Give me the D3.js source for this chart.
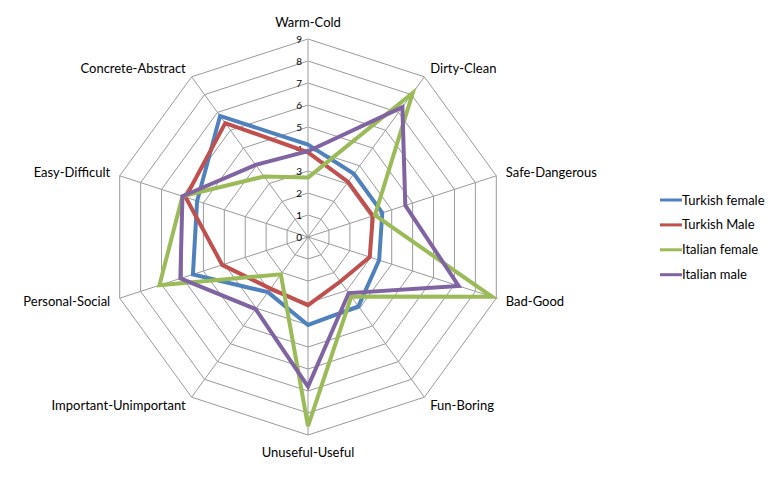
<!DOCTYPE html>
<html>
<head>
<meta charset="utf-8">
<script src="https://cdn.jsdelivr.net/npm/d3@7"></script>
<style>
  body { margin: 0; background: #fff; }
  text { font-family: Lato, "Liberation Sans", sans-serif; fill: #000; }
</style>
</head>
<body>
<div id="chart"></div>
<script>
const axes = ['Warm-Cold', 'Dirty-Clean', 'Safe-Dangerous', 'Bad-Good', 'Fun-Boring',
    'Unuseful-Useful', 'Important-Unimportant', 'Personal-Social', 'Easy-Difficult', 'Concrete-Abstract'];

const turkishFemale = [4.2, 3.55, 3.55, 3.4, 3.9, 4.0, 3.1, 5.5, 5.3, 6.8];
const turkishMale = [3.85, 3.1, 3.1, 2.95, 2.5, 3.1, 2.9, 4.1, 5.85, 6.4];
const italianFemale = [2.7, 8.1, 3.2, 8.8, 3.35, 8.6, 2.1, 7.1, 6.0, 3.4];
const italianMale = [3.9, 7.3, 4.65, 7.2, 3.15, 6.8, 4.05, 6.1, 6.0, 4.05];

const seriesNames = ['Turkish female', 'Turkish Male', 'Italian female', 'Italian male'];
const ticks = [0, 1, 2, 3, 4, 5, 6, 7, 8, 9];

const series = [
    { name: seriesNames[0], values: turkishFemale, color: '#4F81BD' },
    { name: seriesNames[1], values: turkishMale, color: '#C0504D' },
    { name: seriesNames[2], values: italianFemale, color: '#9BBB59' },
    { name: seriesNames[3], values: italianMale, color: '#8064A2' }
];

const width = 773, height = 478;
const cx = 308, cy = 237, maxRadius = 198;

const r = d3.scaleLinear().domain([0, 9]).range([0, maxRadius]);
const angle = d3.scalePoint().domain(axes).range([0, 2 * Math.PI * (axes.length - 1) / axes.length]);

const svg = d3.select('#chart').append('svg')
    .attr('width', width)
    .attr('height', height);

const g = svg.append('g').attr('transform', `translate(${cx},${cy})`);

const point = (a, v) => [Math.sin(angle(a)) * r(v), -Math.cos(angle(a)) * r(v)];

// web rings
g.selectAll('polygon.ring')
    .data(ticks.slice(1))
    .enter().append('polygon')
    .attr('class', 'ring')
    .attr('points', t => axes.map(a => point(a, t).join(',')).join(' '))
    .attr('fill', 'none')
    .attr('stroke', '#9a9a9a')
    .attr('stroke-width', 1);

// spokes
g.selectAll('line.spoke')
    .data(axes)
    .enter().append('line')
    .attr('class', 'spoke')
    .attr('x1', 0).attr('y1', 0)
    .attr('x2', a => point(a, 9)[0])
    .attr('y2', a => point(a, 9)[1])
    .attr('stroke', a => a === axes[0] ? '#bdbdbd' : '#9a9a9a')
    .attr('stroke-width', a => a === axes[0] ? 1.5 : 1);

// value ticks
g.selectAll('text.tick')
    .data(ticks)
    .enter().append('text')
    .attr('class', 'tick')
    .attr('x', -6)
    .attr('y', t => -r(t))
    .attr('dy', '0.35em')
    .attr('text-anchor', 'end')
    .style('font-size', '10px')
    .text(t => t);

// axis labels
g.selectAll('text.label')
    .data(axes)
    .enter().append('text')
    .attr('class', 'label')
    .each(function (a) {
        const s = Math.sin(angle(a));
        const vertical = Math.abs(s) < 0.1;
        const [x, y] = point(a, 9 + (vertical ? 17 : 10) / r(1));
        d3.select(this)
            .attr('x', x).attr('y', y)
            .attr('dy', '0.35em')
            .attr('text-anchor', vertical ? 'middle' : (s > 0 ? 'start' : 'end'));
    })
    .style('font-size', '13px')
    .text(a => a);

const line = d3.lineRadial()
    .angle((d, i) => angle(axes[i]))
    .radius(d => r(d))
    .curve(d3.curveLinearClosed);

g.selectAll('path.series')
    .data(series)
    .enter().append('path')
    .attr('class', 'series')
    .attr('d', d => line(d.values))
    .attr('fill', 'none')
    .attr('stroke', d => d.color)
    .attr('stroke-width', 4)
    .attr('stroke-linejoin', 'miter');

// legend
const legend = svg.append('g').attr('transform', 'translate(660,200)');
const item = legend.selectAll('g.item')
    .data(series)
    .enter().append('g')
    .attr('class', 'item')
    .attr('transform', (d, i) => `translate(0,${i * 24.9})`);

item.append('line')
    .attr('x1', 0).attr('x2', 22)
    .attr('stroke', d => d.color)
    .attr('stroke-width', 3);

item.append('text')
    .attr('x', 22)
    .attr('dy', '0.35em')
    .style('font-size', '13px')
    .text(d => d.name);
</script>
</body>
</html>
